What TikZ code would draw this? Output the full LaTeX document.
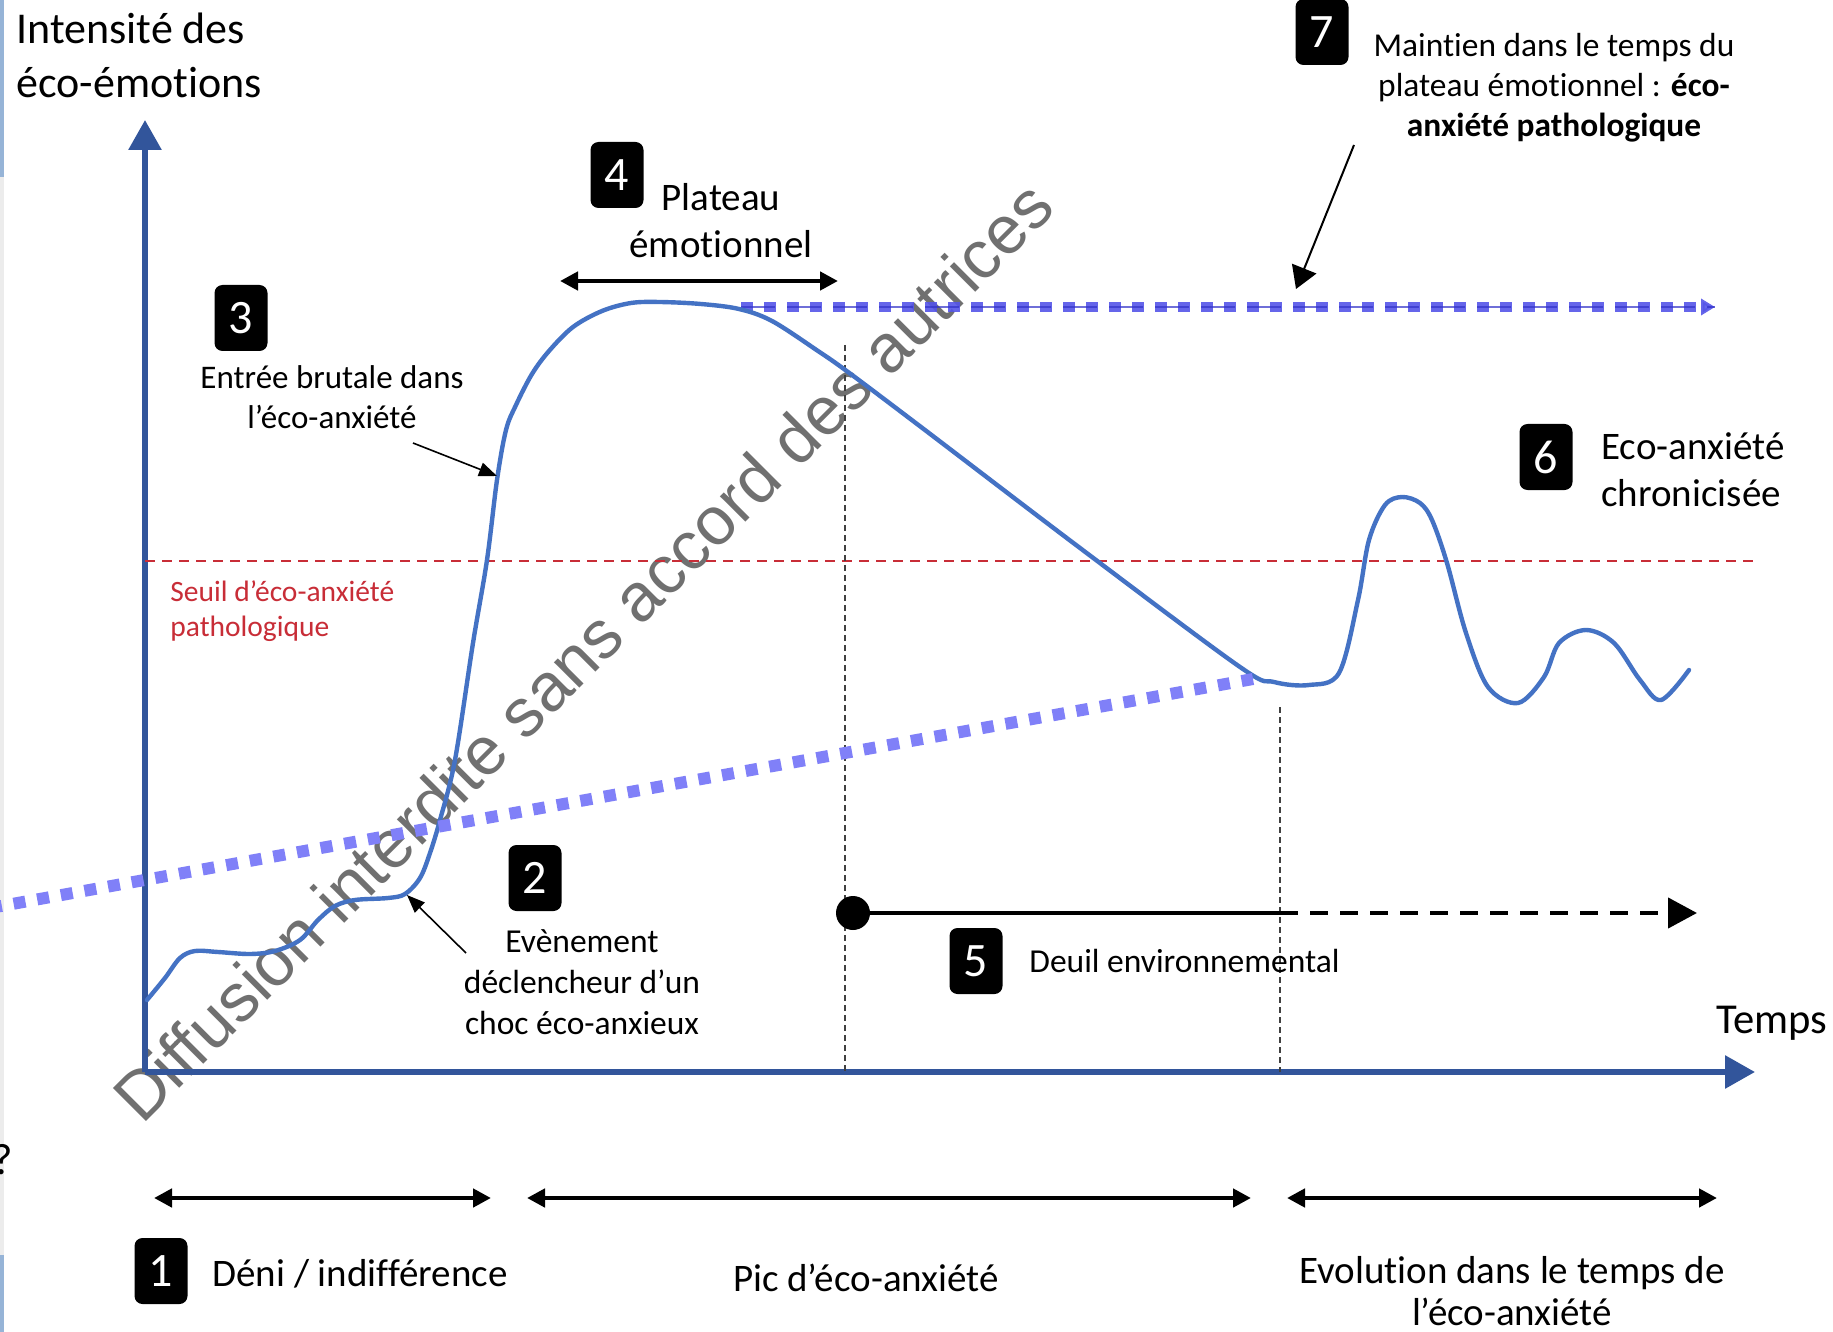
\documentclass[tikz,border=0pt]{standalone}
\usepackage{fontspec}
\setmainfont{Carlito}[Ligatures=NoCommon]
\newfontfamily\wmfont{Liberation Sans}
\usetikzlibrary{arrows.meta}

\definecolor{axisblue}{RGB}{50,85,155}
\definecolor{curveblue}{RGB}{68,114,196}
\definecolor{seuilred}{RGB}{200,45,55}
\definecolor{plateaublue}{RGB}{85,85,232}
\definecolor{plateaudark}{RGB}{50,50,200}
\definecolor{diagblue}{RGB}{128,128,248}
\definecolor{wmgray}{RGB}{112,112,112}
\definecolor{edgeblue}{RGB}{150,180,215}
\definecolor{edgegray}{RGB}{236,236,236}

\newcommand{\fs}[2]{\fontsize{#1}{#2}\selectfont}

\tikzset{
  axisline/.style={draw=axisblue, line width=3pt, -{Triangle[length=15pt,width=16pt]}},
  curveline/.style={draw=curveblue, line width=2.2pt, line join=round, line cap=round},
  seuilline/.style={draw=seuilred, line width=1pt, dash pattern=on 5pt off 3.5pt},
  guide/.style={draw=black!75, line width=0.7pt, dash pattern=on 3pt off 2pt},
  numbox/.style={fill=black, rounded corners=4pt, minimum width=26.5pt, minimum height=33pt,
    inner sep=0pt, text=white, font=\fs{24}{24}},
  lbl/.style={inner sep=0pt, text=black},
  annot/.style={draw=black, line width=0.8pt, -{Triangle[length=9pt,width=7pt]}},
  span/.style={draw=black, line width=2.3pt, {Triangle[length=9pt,width=9pt]}-{Triangle[length=9pt,width=9pt]}},
  deuil/.style={draw=black, line width=2.2pt},
}

\begin{document}
\begin{tikzpicture}[x=0.5pt, y=-0.5pt]
  % page
  \fill[white] (0,0) rectangle (1833,1332);
  \useasboundingbox (0,0) rectangle (1833,1332);

  % strips along the left edge
  \fill[edgeblue] (0,0) rectangle (4,177);
  \fill[edgegray] (0,177) rectangle (4,1255);
  \fill[edgeblue] (0,1255) rectangle (4,1332);
  \node[lbl, anchor=east, font=\fs{22}{22}] (qmark) at (13,1160) {?};

  % watermark
  \node[rotate=45, anchor=base, inner sep=0pt, text=wmgray, font=\wmfont\fs{34}{34}] (wm)
    at (600,668) {Diffusion interdite sans accord des autrices};

  % axes
  \coordinate (origin) at (145,1072);
  \coordinate (ytip) at (145,120);
  \coordinate (xtip) at (1755,1072);
  \draw[axisline] (origin) -- (ytip);
  \draw[axisline] (origin) -- (xtip);

  \node[lbl, anchor=west, align=left, font=\fs{22}{27}] (ylabel) at (16,55)
    {Intensité des\\éco-émotions};
  \node[lbl, font=\fs{21.3}{24}] (xlabel) at (1772,1023) {Temps};

  % threshold
  \coordinate (s0) at (145,561);
  \coordinate (s1) at (1753,561);
  \draw[seuilline] (s0) -- (s1);
  \node[lbl, anchor=west, align=left, text=seuilred, font=\fs{14.75}{17.5}] (seuil) at (170,611)
    {Seuil d’éco-anxiété\\pathologique};

  % guide lines
  \coordinate (g1t) at (845,345);
  \coordinate (g1b) at (845,1072);
  \coordinate (g2t) at (1280,707);
  \coordinate (g2b) at (1280,1072);
  \draw[guide] (g1t) -- (g1b);
  \draw[guide] (g2t) -- (g2b);

  % plateau extension
  \coordinate (p0) at (741,307);
  \coordinate (p1) at (1715,307);
  \draw[draw=plateaublue, opacity=0.9, line width=5pt, dash pattern=on 6pt off 5.5pt,
        -{Triangle[length=7pt,width=8pt]}] (p0) -- (p1);
  \draw[draw=plateaudark, opacity=0.7, line width=1.3pt, dash pattern=on 17pt off 6pt] (p0) -- (p1);

  % emotion curve
  \draw[curveline] plot[smooth, tension=0.55] coordinates {
    (147,1000) (165,978) (180,958) (195,951) (218,952) (250,954) (275,951)
    (300,940) (318,920) (335,906) (355,900) (388,898) (405,894) (420,878)
    (430,853) (440,820) (455,760) (473,643) (487,560) (497,480) (506,430)
    (516,405) (532,374) (549,351) (573,327) (602,311) (631,303) (660,302)
    (701,304) (739,309) (772,321) (818,351) (848,372)
    (921,427) (1080,548) (1240,667) (1274,682) (1309,685)
    (1339,673) (1358,600) (1369,540) (1385,505) (1402,497) (1420,503)
    (1432,520) (1447,563) (1466,633) (1488,687) (1518,703) (1544,677)
    (1559,643) (1586,630) (1614,643) (1640,680) (1661,700) (1689,670)};

  % long dotted diagonal
  \coordinate (d0) at (-10,908);
  \coordinate (d1) at (1253,679);
  \draw[draw=diagblue, line width=6pt, dash pattern=on 6pt off 6pt] (d0) -- (d1);

  % 1
  \node[numbox] (b1) at (161,1271) {1};
  \node[lbl, anchor=west, font=\fs{19.5}{23}] (t1) at (212,1274) {Déni / indifférence};

  % 2
  \node[numbox] (b2) at (535,878) {2};
  \node[lbl, align=center, font=\fs{16.75}{20.5}] (t2) at (582,982)
    {Evènement\\déclencheur d’un\\choc éco-anxieux};
  \coordinate (a2s) at (466,953);
  \coordinate (a2e) at (407,895);
  \draw[annot] (a2s) -- (a2e);

  % 3
  \node[numbox] (b3) at (241,318) {3};
  \node[lbl, align=center, font=\fs{16.5}{20}] (t3) at (332,397)
    {Entrée brutale dans\\l’éco-anxiété};
  \coordinate (a3s) at (413,443);
  \coordinate (a3e) at (497,476);
  \draw[annot] (a3s) -- (a3e);

  % 4
  \node[numbox] (b4) at (617,175) {4};
  \node[lbl, align=center, font=\fs{19.5}{23.5}] (t4) at (721,221) {Plateau\\émotionnel};
  \coordinate (r4a) at (560,281);
  \coordinate (r4b) at (838,281);
  \draw[span] (r4a) -- (r4b);

  % 5
  \node[circle, fill=black, minimum size=17pt, inner sep=0pt] (dot) at (853,913) {};
  \coordinate (dmid) at (1280,913);
  \coordinate (dend) at (1697,913);
  \draw[deuil] (dot.center) -- (dmid);
  \draw[deuil, dash pattern=on 9pt off 6pt, -{Triangle[length=14.5pt,width=15pt]}] (dmid) -- (dend);
  \node[numbox] (b5) at (976,961) {5};
  \node[lbl, anchor=west, font=\fs{16.75}{20}] (t5) at (1029,961) {Deuil environnemental};

  % 6
  \node[numbox] (b6) at (1546,457) {6};
  \node[lbl, anchor=west, align=left, font=\fs{19.5}{23.5}] (t6) at (1601,470)
    {Eco-anxiété\\chronicisée};

  % 7
  \node[numbox] (b7) at (1322,32) {7};
  \node[lbl, align=center, font=\fs{16.7}{20}] (t7) at (1554,88)
    {Maintien dans le temps du\\plateau émotionnel : \textbf{éco-}\\\textbf{anxiété pathologique}};
  \coordinate (a7s) at (1354,145);
  \coordinate (a7e) at (1296,289);
  \draw[annot, line width=1pt, -{Triangle[length=11pt,width=13pt]}] (a7s) -- (a7e);

  % phases along the time axis
  \coordinate (ph1a) at (154,1198);
  \coordinate (ph1b) at (491,1198);
  \coordinate (ph2a) at (527,1198);
  \coordinate (ph2b) at (1251,1198);
  \coordinate (ph3a) at (1287,1198);
  \coordinate (ph3b) at (1717,1198);
  \draw[span] (ph1a) -- (ph1b);
  \draw[span] (ph2a) -- (ph2b);
  \draw[span] (ph3a) -- (ph3b);

  \node[lbl, font=\fs{19.5}{23}] (tpic) at (866,1278) {Pic d’éco-anxiété};
  \node[lbl, align=center, font=\fs{19.5}{21}] (tevo) at (1512,1291)
    {Evolution dans le temps de\\l’éco-anxiété};
\end{tikzpicture}
\end{document}
